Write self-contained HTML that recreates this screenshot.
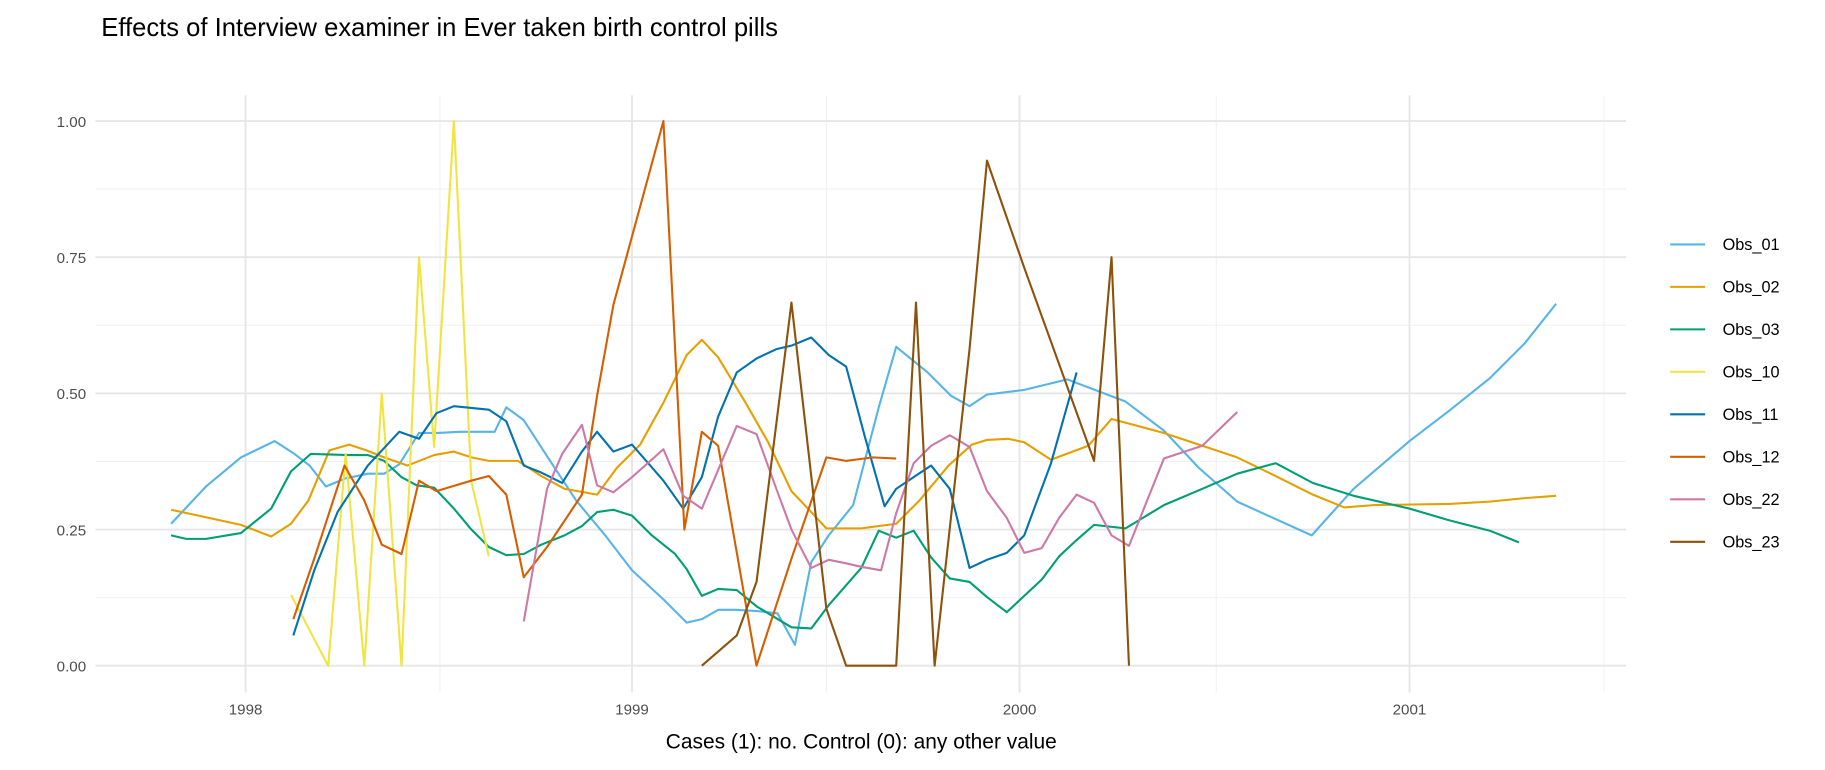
<!DOCTYPE html>
<html><head><meta charset="utf-8"><style>
body{margin:0;background:#fff}
svg{display:block;font-family:"Liberation Sans",Arial,sans-serif}
</style></head><body>
<svg width="1825" height="770" viewBox="0 0 1568 661.6" preserveAspectRatio="none" xmlns="http://www.w3.org/2000/svg">
<rect width="1568" height="661.6" fill="#fff"/>
<text x="87" y="31" font-size="22" fill="#000">Effects of Interview examiner in Ever taken birth control pills</text>
<g stroke="#f2f2f2" stroke-width="1">
<line x1="82" x2="1397" y1="513.5" y2="513.5"/><line x1="82" x2="1397" y1="396.5" y2="396.5"/>
<line x1="82" x2="1397" y1="279.5" y2="279.5"/><line x1="82" x2="1397" y1="162.5" y2="162.5"/>
<line x1="378" x2="378" y1="82" y2="595"/><line x1="710" x2="710" y1="82" y2="595"/>
<line x1="1045" x2="1045" y1="82" y2="595"/><line x1="1378" x2="1378" y1="82" y2="595"/>
</g>
<g stroke="#e6e6e6" stroke-width="1.6">
<line x1="82" x2="1397" y1="572" y2="572"/><line x1="82" x2="1397" y1="455" y2="455"/>
<line x1="82" x2="1397" y1="338" y2="338"/><line x1="82" x2="1397" y1="221" y2="221"/>
<line x1="82" x2="1397" y1="104" y2="104"/>
<line x1="211" x2="211" y1="82" y2="595"/><line x1="543" x2="543" y1="82" y2="595"/>
<line x1="876" x2="876" y1="82" y2="595"/><line x1="1211" x2="1211" y1="82" y2="595"/>
</g>
<g font-size="13" fill="#4d4d4d" text-anchor="end">
<text x="74" y="577">0.00</text><text x="74" y="460">0.25</text><text x="74" y="343">0.50</text><text x="74" y="226">0.75</text><text x="74" y="109">1.00</text>
</g>
<g font-size="13" fill="#4d4d4d" text-anchor="middle">
<text x="211" y="614">1998</text><text x="543" y="614">1999</text><text x="876" y="614">2000</text><text x="1211" y="614">2001</text>
</g>
<text x="740" y="643" font-size="18" text-anchor="middle" fill="#000">Cases (1): no. Control (0): any other value</text>
<g fill="none" stroke-width="1.8" stroke-linejoin="round">
<polyline stroke="#56B4E9" points="147,450 177,418 207,393 236,379 253,390 266,400 280,418 297,411 316,407 330,407 343,399 360,372 376,372 395,371 425,371 435,350 450,361 470,392 495,430 520,460 543,490 570,515 590,535 603,532 617,524 633,524 650,525 668,527 683,554 697,483 712,460 733,434 755,350 770,298 797,320 817,340 833,349 848,339 880,335 917,326 967,345 1000,370 1030,402 1063,431 1096,446 1127,460 1163,420 1211,379 1245,353 1280,325 1310,295 1337,261"/>
<polyline stroke="#E69F00" points="147,438 175,444 207,451 233,461 250,450 265,430 283,387 300,382 315,387 330,393 350,400 373,391 390,388 405,393 420,396 445,396 465,409 485,420 513,425 530,402 550,382 570,346 590,305 603,292 617,307 640,345 660,380 680,422 697,440 710,454 740,454 770,450 790,430 815,400 835,382 848,378 866,377 880,380 903,395 935,383 955,360 970,364 1000,372 1033,383 1063,393 1096,409 1128,425 1155,436 1180,434 1245,433 1280,431 1310,428 1337,426"/>
<polyline stroke="#009E73" points="147,460 160,463 177,463 207,458 233,437 250,405 267,390 300,391 316,391 330,396 345,410 358,417 373,419 390,437 405,455 420,470 435,477 450,476 465,468 485,460 500,452 513,440 527,438 543,443 560,460 580,476 590,489 603,512 617,506 633,507 650,521 680,539 697,540 712,520 740,488 755,456 770,462 785,456 800,479 816,497 833,500 848,513 865,526 880,512 895,498 910,478 925,464 940,451 967,454 1000,434 1033,420 1063,407 1096,398 1128,415 1163,426 1211,437 1245,447 1280,456 1305,466"/>
<polyline stroke="#F0E442" points="250,511 282,572 297,390 313,572 328,338 345,572 360,221 373,384 390,104 405,414 420,478"/>
<polyline stroke="#0072B2" points="252,546 270,490 290,440 316,400 343,371 360,377 375,355 390,349 420,352 435,362 450,400 465,406 483,415 500,388 513,371 527,388 543,382 570,413 587,437 603,410 617,358 633,320 650,308 667,300 680,297 697,290 712,305 727,315 743,375 760,435 770,420 785,410 800,400 816,420 833,488 848,481 865,475 880,460 903,398 925,320"/>
<polyline stroke="#D55E00" points="252,532 270,480 296,400 313,430 328,468 345,476 360,413 375,422 405,413 420,409 435,425 450,496 470,470 500,425 513,340 527,262 570,104 588,455 603,371 617,383 650,572 680,480 710,393 727,396 750,393 770,394"/>
<polyline stroke="#CC79A7" points="450,534 470,420 483,390 500,365 513,417 527,423 543,410 570,386 587,426 603,437 633,366 650,373 667,420 680,455 697,488 712,481 727,484 740,487 757,490 770,441 785,398 800,383 816,374 833,384 848,422 865,445 880,475 895,471 910,445 925,425 940,432 955,460 970,469 1000,394 1033,383 1063,354"/>
<polyline stroke="#8C510A" points="603,572 633,546 650,500 680,260 710,523 727,572 770,572 787,260 803,572 833,300 848,138 880,230 940,396 955,221 970,572"/>
</g>
<g stroke-width="1.8">
<line x1="1435" x2="1465" y1="210" y2="210" stroke="#56B4E9"/>
<line x1="1435" x2="1465" y1="246.5" y2="246.5" stroke="#E69F00"/>
<line x1="1435" x2="1465" y1="283" y2="283" stroke="#009E73"/>
<line x1="1435" x2="1465" y1="319.5" y2="319.5" stroke="#F0E442"/>
<line x1="1435" x2="1465" y1="356" y2="356" stroke="#0072B2"/>
<line x1="1435" x2="1465" y1="392.5" y2="392.5" stroke="#D55E00"/>
<line x1="1435" x2="1465" y1="429" y2="429" stroke="#CC79A7"/>
<line x1="1435" x2="1465" y1="465.5" y2="465.5" stroke="#8C510A"/>
</g>
<g font-size="14" fill="#000">
<text x="1480" y="215">Obs_01</text><text x="1480" y="251.5">Obs_02</text><text x="1480" y="288">Obs_03</text>
<text x="1480" y="324.5">Obs_10</text><text x="1480" y="361">Obs_11</text><text x="1480" y="397.5">Obs_12</text>
<text x="1480" y="434">Obs_22</text><text x="1480" y="470.5">Obs_23</text>
</g>
</svg>
</body></html>
